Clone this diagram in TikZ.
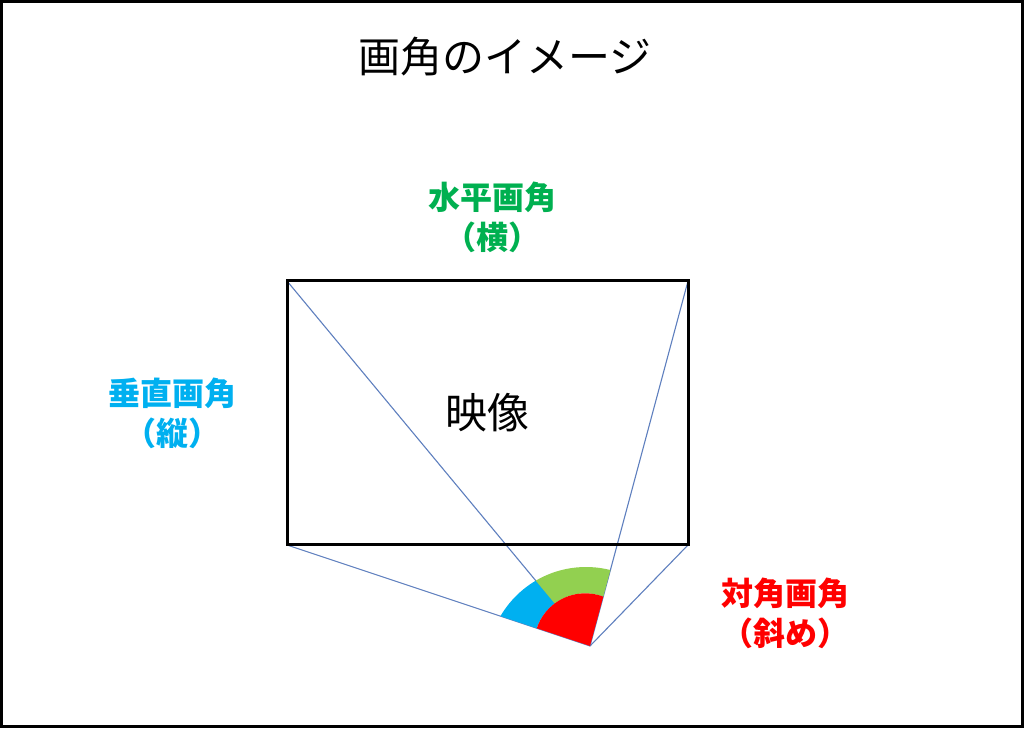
\documentclass[tikz,border=0pt]{standalone}
\usepackage{fontspec}
\newfontfamily\jp{Noto Sans CJK JP}
\definecolor{lineblue}{HTML}{5E7FBE}
\definecolor{hgreen}{HTML}{00B050}
\definecolor{vblue}{HTML}{00B0F0}
\definecolor{fgreen}{HTML}{92D050}
\definecolor{dred}{HTML}{FF0000}
\pgfdeclarelayer{background}
\pgfsetlayers{background,main}
\tikzset{
  ray/.style={draw=lineblue, line width=1.1pt},
  frame/.style={draw=black, line width=3pt, inner sep=0pt, outer sep=0pt},
  lab/.style={align=center, inner sep=0pt, font=\jp\bfseries\fontsize{32}{40}\selectfont},
  title/.style={inner sep=0pt, font=\jp\fontsize{42}{50}\selectfont}
}
\begin{document}
\begin{tikzpicture}[x=1pt,y=1pt]
\useasboundingbox (0,0) rectangle (1024,728);
\draw[line width=3pt] (1.5,1.5) rectangle (1022.5,726.5);
\node[title] (t) at (505,671) {画角のイメージ};
\node[frame, minimum width=401pt, minimum height=264pt, font=\jp\fontsize{42}{50}\selectfont] (img) at (487.5,315) {映像};
\coordinate (P) at (590,82);
\coordinate (Oo) at (586,62);
\coordinate (Oi) at (585.2,83.7);
\begin{pgfonlayer}{background}
\draw[ray] (P) -- (img.north west);
\draw[ray] (P) -- (img.south west);
\draw[ray] (P) -- (img.north east);
\draw[ray] (P) -- (img.south east);
\begin{scope}
\clip (P) -- (img.south west) -- (img.north west) -- cycle;
\fill[vblue, even odd rule] (Oo) circle (99pt) (Oi) circle (51pt);
\end{scope}
\begin{scope}
\clip (P) -- (img.north west) -- (img.north east) -- cycle;
\fill[fgreen, even odd rule] (Oo) circle (99pt) (Oi) circle (51pt);
\end{scope}
\begin{scope}
\clip (P) -- (img.south west) -- (img.north west) -- (img.north east) -- cycle;
\fill[dred] (Oi) circle (51pt);
\end{scope}
\end{pgfonlayer}
\node[lab, text=hgreen] (h) at (492,510.5) {水平画角\\（横）};
\node[lab, text=vblue] (v) at (172.5,315) {垂直画角\\（縦）};
\node[lab, text=dred] (d) at (785,115) {対角画角\\（斜め）};
\end{tikzpicture}
\end{document}
